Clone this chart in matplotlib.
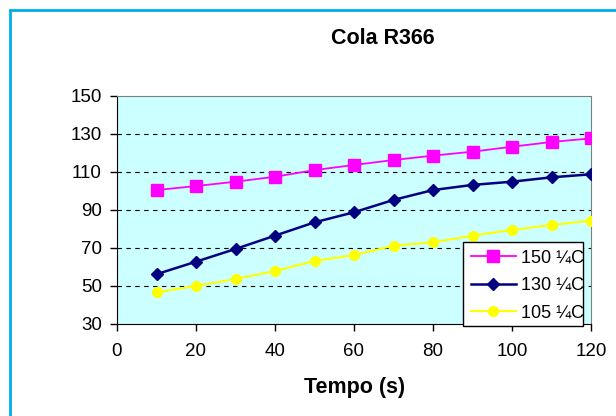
import matplotlib
matplotlib.use("Agg")
import matplotlib.pyplot as plt
from matplotlib.patches import Rectangle

plt.rcParams["font.family"] = ["Liberation Sans", "DejaVu Sans"]

tempo = [10, 20, 30, 40, 50, 60, 70, 80, 90, 100, 110, 120]
t150 = [100.5, 102.6, 104.9, 107.5, 111.0, 113.7, 116.3, 118.6, 120.7, 123.3, 125.8, 127.7]
t130 = [56.2, 62.8, 69.5, 76.5, 83.5, 88.8, 95.3, 100.5, 103.2, 104.9, 107.2, 108.8]
t105 = [46.7, 50.0, 53.7, 57.9, 63.2, 66.3, 71.2, 73.0, 76.5, 79.5, 82.1, 84.4]
labels = ["150 ¼C", "130 ¼C", "105 ¼C"]
xticks = [0, 20, 40, 60, 80, 100, 120]
yticks = [30, 50, 70, 90, 110, 130, 150]

W, H = 616, 416
fig = plt.figure(figsize=(W / 100, H / 100), dpi=100)
fig.patch.set_facecolor("white")
# blue chart-area border (runs off right and bottom)
fig.add_artist(Rectangle((10 / W, -0.1), 1.2, 1.1 - 10 / H, transform=fig.transFigure,
                         fill=False, edgecolor="#00AEEF", lw=2))

ax = fig.add_axes([117 / W, 1 - 324 / H, 474 / W, 228 / H])
ax.set_facecolor("#CCFFFF")
ax.plot(tempo, t150, color="#FF00FF", lw=1.3, marker="s", ms=8, label=labels[0], zorder=3)
ax.plot(tempo, t130, color="#000080", lw=1.8, marker="D", ms=6.5, label=labels[1], zorder=3)
ax.plot(tempo, t105, color="#FFFF00", lw=1.5, marker="o", ms=7, label=labels[2], zorder=3)

ax.set_xlim(0, 120); ax.set_ylim(30, 150)
ax.set_xticks(xticks); ax.set_yticks(yticks)
ax.tick_params(direction="out", length=5, width=1, labelsize=13.5, colors="black")
ax.tick_params(axis="x", pad=9)
ax.tick_params(axis="y", pad=6)
for y in yticks[1:-1]:
    ax.axhline(y, color="black", ls=(0, (4, 4)), lw=0.8, zorder=1)
for s in ("top", "right"):
    ax.spines[s].set_color("#808080")
for s in ("left", "bottom"):
    ax.spines[s].set_color("black")

fig.text(355 / W, 1 - 388 / H, "Tempo (s)", ha="center", va="center",
         fontsize=15.5, fontweight="bold")
fig.text(383 / W, 1 - 38 / H, "Cola R366", ha="center", va="center",
         fontsize=15.5, fontweight="bold")

# legend box drawn by hand so the labels run to its right edge like the original
box = Rectangle((463 / W, 1 - 326 / H), 120 / W, 84 / H, transform=fig.transFigure,
                facecolor="white", edgecolor="black", lw=1, zorder=4.5, clip_on=False)
ax.add_patch(box)
leg = ax.legend(loc="upper left", bbox_to_anchor=(463 / W, 1 - 242 / H),
                bbox_transform=fig.transFigure, fontsize=13, frameon=False,
                borderpad=0.42, handlelength=2.5, handletextpad=0.28,
                labelspacing=0.58, borderaxespad=0)
leg.set_zorder(5)

fig.savefig("out.png", dpi=100, facecolor="white")
